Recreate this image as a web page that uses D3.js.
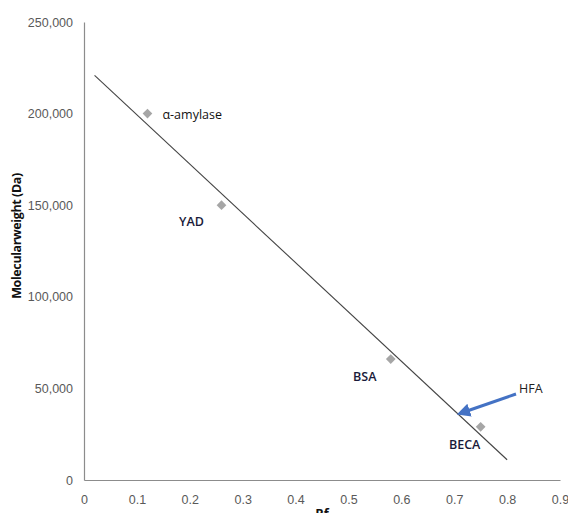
<!DOCTYPE html>
<html>
<head>
<meta charset="utf-8">
<script src="https://cdn.jsdelivr.net/npm/d3@7/dist/d3.min.js"></script>
<style>
  html, body { margin: 0; padding: 0; background: #fff; }
  svg { display: block; font-family: "Open Sans", "Noto Sans", sans-serif; }
</style>
</head>
<body>
<svg id="chart" width="568" height="513"></svg>
<script>
// Protein standards: relative mobility (Rf) vs molecular weight (Da)
const proteins = ["α-amylase", "YAD", "BSA", "BECA"];
const rfValues = [0.12, 0.26, 0.58, 0.75];
const mwValues = [200000, 150000, 66000, 29000];
const xTicks = [0, 0.1, 0.2, 0.3, 0.4, 0.5, 0.6, 0.7, 0.8, 0.9];
const yTicks = [0, 50000, 100000, 150000, 200000, 250000];
const trendRange = [0.02, 0.80];
const unknownLabel = "HFA";

const svg = d3.select("#chart");
const x = d3.scaleLinear().domain([0, 0.9]).range([84, 560]);
const y = d3.scaleLinear().domain([0, 250000]).range([480, 22]);

const axisColor = "#8c8c8c";
const tickColor = "#595959";

// Axes lines (no tick marks)
const xAxis = svg.append("g").attr("transform", `translate(0,${y(0)})`)
  .call(d3.axisBottom(x).tickValues(xTicks).tickSize(0).tickPadding(15)
    .tickFormat(d => d === 0 ? "0" : d3.format(".1f")(d)));
const yAxis = svg.append("g").attr("transform", `translate(${x(0)},0)`)
  .call(d3.axisLeft(y).tickValues(yTicks).tickSize(0).tickPadding(11)
    .tickFormat(d => d === 0 ? "0" : d3.format(",")(d)));
[xAxis, yAxis].forEach(g => {
  g.select(".domain").attr("stroke", axisColor).attr("stroke-width", 1.2);
  g.selectAll("text").attr("fill", tickColor).attr("font-size", 12.5);
});

// Axis titles
svg.append("text")
  .attr("transform", `translate(21,${236}) rotate(-90)`)
  .attr("text-anchor", "middle")
  .attr("font-size", 12.5).attr("font-weight", "bold").attr("fill", "#111")
  .attr("letter-spacing", -0.4)
  .text("Molecularweight (Da)");
svg.append("text")
  .attr("x", x(0.45)).attr("y", 518)
  .attr("text-anchor", "middle")
  .attr("font-size", 13).attr("font-weight", "bold").attr("fill", "#111")
  .text("Rf");

// Least-squares trend line through the standards
const mx = d3.mean(rfValues), my = d3.mean(mwValues);
const sxy = d3.sum(rfValues, (v, i) => (v - mx) * (mwValues[i] - my));
const sxx = d3.sum(rfValues, v => (v - mx) ** 2);
const slope = sxy / sxx, intercept = my - slope * mx;
svg.append("line")
  .attr("x1", x(trendRange[0])).attr("y1", y(intercept + slope * trendRange[0]))
  .attr("x2", x(trendRange[1])).attr("y2", y(intercept + slope * trendRange[1]))
  .attr("stroke", "#444").attr("stroke-width", 1.1);

// Diamond markers
const diamond = d3.symbol().type(d3.symbolDiamond2).size(60);
svg.selectAll(".pt").data(proteins).join("path")
  .attr("class", "pt")
  .attr("d", diamond)
  .attr("transform", (d, i) => `translate(${x(rfValues[i])},${y(mwValues[i])})`)
  .attr("fill", "#a6a6a6");

// Point labels
const labelPos = [
  { dx: 15, dy: 5, anchor: "start", weight: "normal", color: "#111" },
  { dx: -30, dy: 21, anchor: "middle", weight: "600", color: "#1a1a3a" },
  { dx: -26, dy: 22, anchor: "middle", weight: "600", color: "#1a1a3a" },
  { dx: -16, dy: 22, anchor: "middle", weight: "600", color: "#1a1a3a" }
];
svg.selectAll(".lbl").data(proteins).join("text")
  .attr("class", "lbl")
  .attr("x", (d, i) => x(rfValues[i]) + labelPos[i].dx)
  .attr("y", (d, i) => y(mwValues[i]) + labelPos[i].dy)
  .attr("text-anchor", (d, i) => labelPos[i].anchor)
  .attr("font-size", 12.5)
  .attr("font-weight", (d, i) => labelPos[i].weight)
  .attr("fill", (d, i) => labelPos[i].color)
  .text(d => d);

// Unknown sample (HFA) annotation with arrow pointing at the trend line
const defs = svg.append("defs");
defs.append("marker")
  .attr("id", "arrowHead").attr("viewBox", "0 0 10 10")
  .attr("refX", 2).attr("refY", 5)
  .attr("markerWidth", 4.5).attr("markerHeight", 4.5)
  .attr("orient", "auto")
  .append("path").attr("d", "M0,0 L10,5 L0,10 Z").attr("fill", "#4472c4");
svg.append("line")
  .attr("x1", 516).attr("y1", 394)
  .attr("x2", 467).attr("y2", 411)
  .attr("stroke", "#4472c4").attr("stroke-width", 3)
  .attr("marker-end", "url(#arrowHead)");
svg.append("text")
  .attr("x", 519).attr("y", 393)
  .attr("font-size", 12.5).attr("fill", "#222")
  .text(unknownLabel);
</script>
</body>
</html>
